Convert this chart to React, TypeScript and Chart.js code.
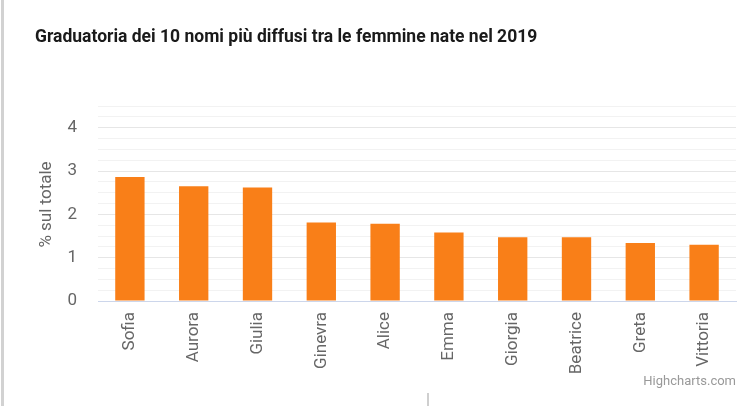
import React, { useEffect, useRef } from "react";
import { Chart, registerables } from "chart.js";

Chart.register(...registerables);

const titleText = "Graduatoria dei 10 nomi più diffusi tra le femmine nate nel 2019";
const yAxisTitle = "% sul totale";
const creditsText = "Highcharts.com";
const categories = ["Sofia", "Aurora", "Giulia", "Ginevra", "Alice", "Emma", "Giorgia", "Beatrice", "Greta", "Vittoria"];
const values = [2.86, 2.65, 2.62, 1.81, 1.78, 1.58, 1.47, 1.47, 1.34, 1.3];
const yMin = 0;
const yMax = 4.5;
const yStep = 0.25;

const FONT = "Roboto, 'Noto Sans', sans-serif";

const textPlugin = {
  id: "extraText",
  afterDraw(chart: any) {
    const ctx = chart.ctx;
    const area = chart.chartArea;
    ctx.save();
    // Title
    ctx.font = `bold 17.5px ${FONT}`;
    ctx.fillStyle = "#1a1a1a";
    ctx.textAlign = "left";
    ctx.textBaseline = "alphabetic";
    ctx.fillText(titleText, 35, 42);
    // Y axis title
    ctx.save();
    ctx.translate(47, (area.top + area.bottom) / 2 + 1);
    ctx.rotate(-Math.PI / 2);
    ctx.font = `17px ${FONT}`;
    ctx.fillStyle = "#666666";
    ctx.textAlign = "center";
    ctx.textBaseline = "middle";
    ctx.fillText(yAxisTitle, 0, 0);
    ctx.restore();
    // Credits
    ctx.font = `13px ${FONT}`;
    ctx.fillStyle = "#999999";
    ctx.textAlign = "right";
    ctx.textBaseline = "middle";
    ctx.fillText(creditsText, 736, 382);
    ctx.restore();
  },
};

export default function App() {
  const canvasRef = useRef<HTMLCanvasElement | null>(null);

  useEffect(() => {
    document.body.style.margin = "0";
    const canvas = canvasRef.current;
    if (!canvas) return;
    const chart = new Chart(canvas, {
      type: "bar",
      data: {
        labels: categories,
        datasets: [
          {
            data: values,
            backgroundColor: "#f97f18",
            borderWidth: 0,
            barPercentage: 0.46,
            categoryPercentage: 1,
          },
        ],
      },
      options: {
        responsive: false,
        animation: false,
        devicePixelRatio: 1,
        layout: { padding: { top: 106, right: 14, bottom: 0, left: 0 } },
        plugins: {
          legend: { display: false },
          title: { display: false },
          tooltip: { enabled: false },
        },
        scales: {
          x: {
            grid: { display: false, drawTicks: false },
            border: { display: true, color: "#ccd6eb", width: 1 },
            ticks: {
              color: "#666666",
              font: { family: FONT, size: 17 },
              minRotation: 90,
              maxRotation: 90,
              padding: 11,
              autoSkip: false,
            },
            afterFit(scale: any) {
              scale.height = 105;
            },
          },
          y: {
            min: yMin,
            max: yMax,
            border: { display: false },
            grid: {
              drawTicks: false,
              color: (ctx: any) => {
                const v = ctx.tick ? ctx.tick.value : 0;
                if (v === 0) return "#ccd6eb";
                return Number.isInteger(v) ? "#e6e6e6" : "#f2f2f2";
              },
              lineWidth: 1,
            },
            ticks: {
              stepSize: yStep,
              maxTicksLimit: 100,
              autoSkip: false,
              color: "#666666",
              font: { family: FONT, size: 17 },
              padding: 21,
              callback: (v: any) => (Number.isInteger(Number(v)) ? String(v) : ""),
            },
            afterFit(scale: any) {
              scale.width = 98;
            },
          },
        },
      },
      plugins: [textPlugin],
    } as any);
    return () => chart.destroy();
  }, []);

  return (
    <div style={{ position: "fixed", left: 0, top: 0, width: 750, height: 406, background: "#fff" }}>
      <canvas ref={canvasRef} width={750} height={406} style={{ display: "block" }} />
      <div style={{ position: "absolute", left: 1, top: 0, width: 3, height: 406, background: "#d2d2d2" }} />
      <div style={{ position: "absolute", left: 427, top: 393, width: 2, height: 13, background: "#cfcfcf" }} />
    </div>
  );
}
